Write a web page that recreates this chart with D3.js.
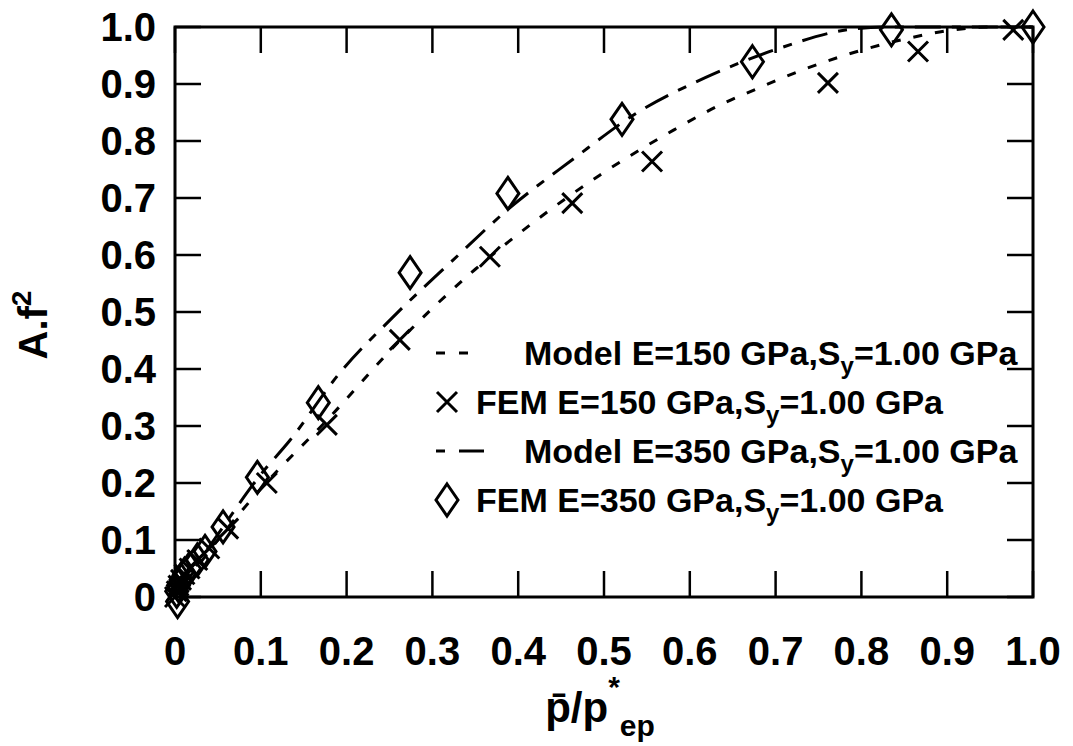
<!DOCTYPE html>
<html>
<head>
<meta charset="utf-8">
<script src="https://cdn.jsdelivr.net/npm/d3@7"></script>
<style>
  body { margin: 0; background: #fff; }
  svg { display: block; }
  text { font-family: 'Liberation Sans', Arial, Helvetica, sans-serif; font-weight: bold; fill: #000; }
</style>
</head>
<body>
<svg></svg>
<script>
// model curves
const model150X = [0, 0.05, 0.1, 0.177, 0.262, 0.35, 0.414, 0.495, 0.581, 0.639, 0.674, 0.732, 0.795, 0.86, 0.907, 0.95, 1.0];
const model150Y = [0, 0.1, 0.19, 0.31, 0.45, 0.575, 0.653, 0.74, 0.819, 0.866, 0.889, 0.925, 0.957, 0.982, 0.995, 1.0, 1.0];
const model350X = [0, 0.05, 0.1, 0.134, 0.192, 0.254, 0.324, 0.388, 0.463, 0.538, 0.618, 0.705, 0.783, 0.83, 1.0];
const model350Y = [0, 0.11, 0.215, 0.275, 0.393, 0.491, 0.591, 0.68, 0.767, 0.849, 0.911, 0.963, 0.995, 1.0, 1.0];

// FEM points
const fem150X = [0, 0.002, 0.004, 0.007, 0.011, 0.017, 0.026, 0.04, 0.062, 0.107, 0.177, 0.262, 0.367, 0.463, 0.556, 0.761, 0.866, 0.977];
const fem150Y = [0, 0.01, 0.02, 0.03, 0.04, 0.05, 0.065, 0.085, 0.12, 0.2, 0.302, 0.451, 0.597, 0.691, 0.764, 0.902, 0.957, 0.995];
const fem350X = [0.003, 0.002, 0.004, 0.007, 0.011, 0.017, 0.026, 0.035, 0.056, 0.096, 0.167, 0.274, 0.388, 0.521, 0.673, 0.835, 1.0];
const fem350Y = [-0.008, 0.01, 0.02, 0.03, 0.04, 0.05, 0.065, 0.08, 0.123, 0.21, 0.341, 0.569, 0.708, 0.838, 0.939, 0.995, 1.0];

const tickVals = [0, 0.1, 0.2, 0.3, 0.4, 0.5, 0.6, 0.7, 0.8, 0.9, 1.0];
const tickLabels = ['0', '0.1', '0.2', '0.3', '0.4', '0.5', '0.6', '0.7', '0.8', '0.9', '1.0'];

const legendLabels = ['Model E=150 GPa,S', 'FEM E=150 GPa,S', 'Model E=350 GPa,S', 'FEM E=350 GPa,S'];

const width = 1073;
const height = 746;
const margin = { top: 27, right: 40, bottom: 149, left: 175 };

const svg = d3.select('svg').attr('width', width).attr('height', height);

const x = d3.scaleLinear().domain([0, 1]).range([margin.left, width - margin.right]);
const y = d3.scaleLinear().domain([0, 1]).range([height - margin.bottom, margin.top]);

const tickLen = 26;

// ticks (inward, mirrored)
const tickG = svg.append('g').attr('stroke', '#000').attr('stroke-width', 2.5);
tickVals.forEach(v => {
  tickG.append('line').attr('x1', x(v)).attr('x2', x(v)).attr('y1', y(0)).attr('y2', y(0) - tickLen);
  tickG.append('line').attr('x1', x(v)).attr('x2', x(v)).attr('y1', y(1)).attr('y2', y(1) + tickLen);
  tickG.append('line').attr('y1', y(v)).attr('y2', y(v)).attr('x1', x(0)).attr('x2', x(0) + tickLen);
  tickG.append('line').attr('y1', y(v)).attr('y2', y(v)).attr('x1', x(1)).attr('x2', x(1) - tickLen);
});

// tick labels
svg.append('g').selectAll('text')
  .data(tickVals)
  .enter()
  .append('text')
  .attr('x', d => x(d))
  .attr('y', y(0) + 68)
  .attr('text-anchor', 'middle')
  .style('font-size', '40px')
  .text((d, i) => tickLabels[i]);

svg.append('g').selectAll('text')
  .data(tickVals)
  .enter()
  .append('text')
  .attr('x', x(0) - 19)
  .attr('y', d => y(d))
  .attr('dy', '0.36em')
  .attr('text-anchor', 'end')
  .style('font-size', '40px')
  .text((d, i) => tickLabels[i]);

// curves
const line = d3.line().x(d => x(d[0])).y(d => y(d[1])).curve(d3.curveMonotoneX);
const m150 = model150X.map((v, i) => [v, model150Y[i]]);
const m350 = model350X.map((v, i) => [v, model350Y[i]]);

svg.append('path')
  .attr('d', line(m150))
  .attr('fill', 'none')
  .attr('stroke', '#000')
  .attr('stroke-width', 3)
  .attr('stroke-dasharray', '9,13');

svg.append('path')
  .attr('d', line(m350))
  .attr('fill', 'none')
  .attr('stroke', '#000')
  .attr('stroke-width', 3)
  .attr('stroke-dasharray', '26,11,9,11');

// markers
const crossPath = (cx, cy) => `M${cx - 10},${cy - 10}L${cx + 10},${cy + 10}M${cx - 10},${cy + 10}L${cx + 10},${cy - 10}`;
const diamondPath = (cx, cy) => `M${cx},${cy - 16}L${cx + 11},${cy}L${cx},${cy + 16}L${cx - 11},${cy}Z`;

svg.append('g').selectAll('path')
  .data(fem150X.map((v, i) => [v, fem150Y[i]]))
  .enter()
  .append('path')
  .attr('d', d => crossPath(x(d[0]), y(d[1])))
  .attr('fill', 'none')
  .attr('stroke', '#000')
  .attr('stroke-width', 3);

svg.append('g').selectAll('path')
  .data(fem350X.map((v, i) => [v, fem350Y[i]]))
  .enter()
  .append('path')
  .attr('d', d => diamondPath(x(d[0]), y(d[1])))
  .attr('fill', 'none')
  .attr('stroke', '#000')
  .attr('stroke-width', 3);

// frame
svg.append('rect')
  .attr('x', x(0)).attr('y', y(1))
  .attr('width', x(1) - x(0)).attr('height', y(0) - y(1))
  .attr('fill', 'none').attr('stroke', '#000').attr('stroke-width', 3);

// legend
const rowY = [353, 402, 451, 500];
const textX = [524, 476, 524, 476];
const leg = svg.append('g');
legendLabels.forEach((lab, i) => {
  const t = leg.append('text')
    .attr('x', textX[i])
    .attr('y', rowY[i])
    .attr('dy', '0.36em')
    .style('font-size', '34px');
  t.append('tspan').text(lab);
  t.append('tspan').attr('dy', 9).style('font-size', '24px').text('y');
  t.append('tspan').attr('dy', -9).text('=1.00 GPa');
});
leg.append('path')
  .attr('d', `M436,${rowY[0]}L470,${rowY[0]}`)
  .attr('stroke', '#000').attr('stroke-width', 3).attr('stroke-dasharray', '9,14');
leg.append('path')
  .attr('d', crossPath(447, rowY[1]))
  .attr('fill', 'none').attr('stroke', '#000').attr('stroke-width', 3);
leg.append('path')
  .attr('d', `M436,${rowY[2]}L484,${rowY[2]}`)
  .attr('stroke', '#000').attr('stroke-width', 3).attr('stroke-dasharray', '9,14,25');
leg.append('path')
  .attr('d', diamondPath(447, rowY[3]))
  .attr('fill', 'none').attr('stroke', '#000').attr('stroke-width', 3);

// axis titles
const yl = svg.append('text')
  .attr('transform', 'translate(47,325) rotate(-90)')
  .attr('text-anchor', 'middle')
  .style('font-size', '40px');
yl.append('tspan').text('A.f');
yl.append('tspan').attr('dy', -16).style('font-size', '28px').text('2');

const xl = svg.append('text')
  .attr('x', 600)
  .attr('y', 722)
  .attr('text-anchor', 'middle')
  .style('font-size', '42px');
xl.append('tspan').text('p\u0304/p');
xl.append('tspan').attr('dy', -25).style('font-size', '30px').text('*');
xl.append('tspan').attr('dy', 39).style('font-size', '30px').text('ep');
</script>
</body>
</html>
